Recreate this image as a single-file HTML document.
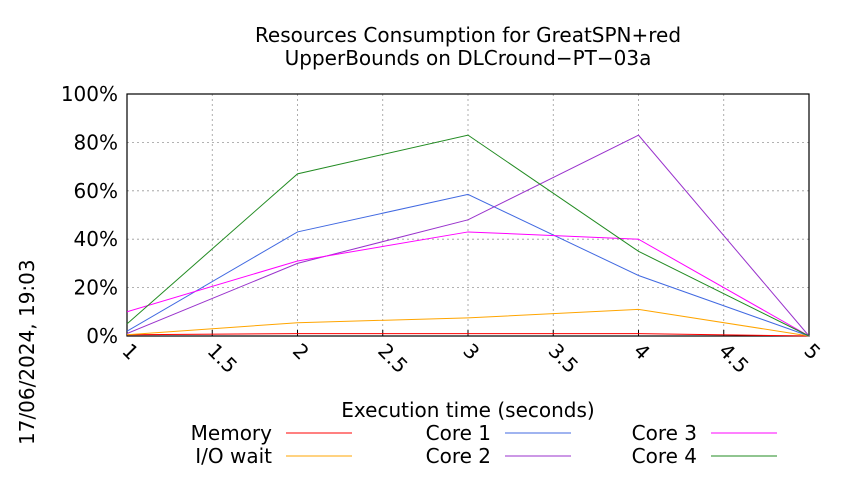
<!DOCTYPE html>
<html><head><meta charset="utf-8"><style>
body{margin:0;background:#fff}
svg text{font-family:"DejaVu Sans","Liberation Sans",sans-serif;fill:#000}
</style></head><body>
<svg id="c" width="850" height="475" xmlns="http://www.w3.org/2000/svg">
<text x="468" y="42" font-size="20" text-anchor="middle">Resources Consumption for GreatSPN+red</text>
<text x="468" y="65" font-size="20" text-anchor="middle">UpperBounds on DLCround−PT−03a</text>
<text transform="translate(34,445) rotate(-90)" font-size="20">17/06/2024, 19:03</text>
<text x="468" y="417" font-size="20" text-anchor="middle">Execution time (seconds)</text>
<g id="grid"></g><g id="series"></g><g id="legend"></g>
</svg>
<script>
const xTicks=[1,1.5,2,2.5,3,3.5,4,4.5,5];
const xTickLabels=["1","1.5","2","2.5","3","3.5","4","4.5","5"];
const yTicks=[0,20,40,60,80,100];
const yTickLabels=["0%","20%","40%","60%","80%","100%"];
const times=[1,2,3,4,5];
const memory=[0.5,1,1,1,0];
const ioWait=[0.5,5.5,7.5,11,0];
const core1=[2,43,58.5,25,0];
const core2=[1,30,48,83,0];
const core3=[10,31,43,40,0];
const core4=[5,67,83,35,0];
const seriesNames=["Memory","I/O wait","Core 1","Core 2","Core 3","Core 4"];
const seriesData=[memory,ioWait,core1,core2,core3,core4];
const colors=["#ff0000","#ffa500","#4169e1","#9932cc","#ff00ff","#228b22"];
const L=127,R=809,T=94,B=336;
const xs=v=>L+(v-1)/4*(R-L);
const ys=v=>B-v/100*(B-T);
const NS="http://www.w3.org/2000/svg";
function mk(p,t,a){const e=document.createElementNS(NS,t);for(const k in a)e.setAttribute(k,a[k]);p.appendChild(e);return e;}
const g=document.getElementById('grid');
xTicks.forEach((v,i)=>{
 const l=mk(g,'line',{x1:xs(v),x2:xs(v),y1:T,y2:B,stroke:'#999','stroke-dasharray':'2,3','stroke-width':0.8});
 
 
 const tk=mk(g,'line',{x1:xs(v),x2:xs(v),y1:B,y2:B-6,stroke:'#000'});
 
 
 const t=mk(g,'text',{transform:`translate(${xs(v)-6},${B+16}) rotate(45)`,'font-size':20});
 t.textContent=xTickLabels[i];
 
 
});
yTicks.forEach((v,i)=>{
 const l=mk(g,'line',{x1:L,x2:R,y1:ys(v),y2:ys(v),stroke:'#999','stroke-dasharray':'2,3','stroke-width':0.8});
 
 
 const t=mk(g,'text',{x:L-9,y:ys(v)+7,'font-size':20,'text-anchor':'end'});
 t.textContent=yTickLabels[i];
 
 
});
const fr=mk(g,'rect',{x:L,y:T,width:R-L,height:B-T,fill:'none',stroke:'#000','stroke-width':1.2});


const s=document.getElementById('series');
seriesData.forEach((d,i)=>{
 const p=mk(s,'polyline',{points:d.map((v,j)=>xs(times[j])+','+ys(v)).join(' '),fill:'none',stroke:colors[i],'stroke-width':1});
 
 
});
const lg=document.getElementById('legend');
const lx=[272,491,697],ly=[433,456];
seriesNames.forEach((n,i)=>{
 const c=Math.floor(i/2),r=i%2;
 const t=mk(lg,'text',{x:lx[c],y:ly[r]+7,'font-size':20,'text-anchor':'end'});
 t.textContent=n;
 
 
 const l=mk(lg,'line',{x1:lx[c]+14,x2:lx[c]+80,y1:ly[r],y2:ly[r],stroke:colors[i]});
 
 
});
</script>
</body></html>
